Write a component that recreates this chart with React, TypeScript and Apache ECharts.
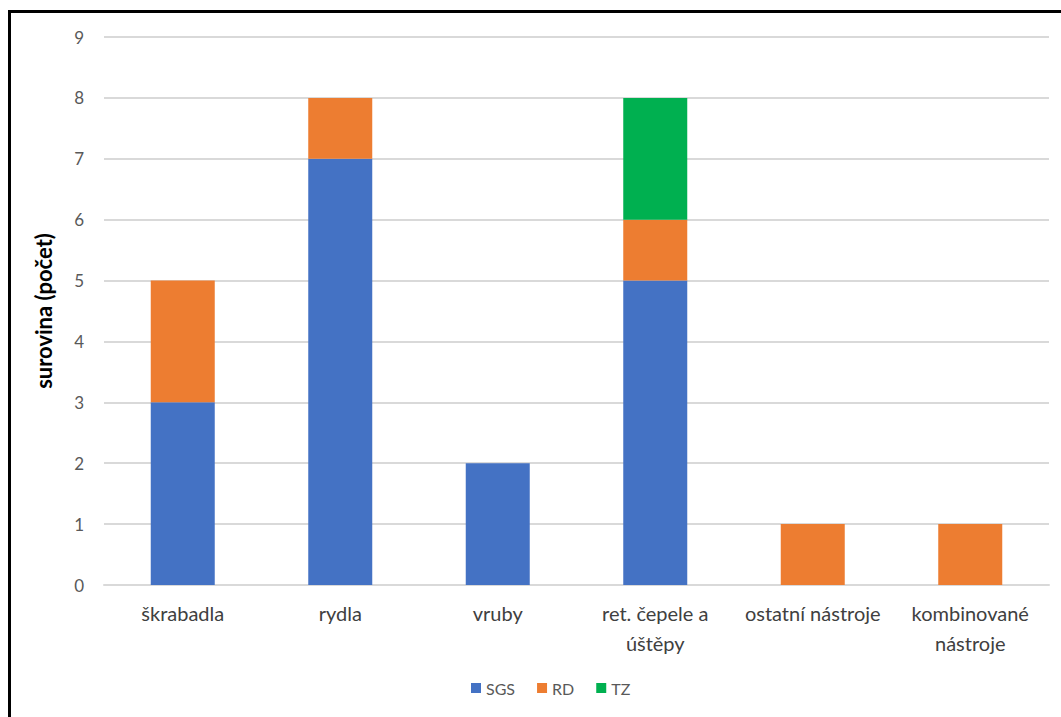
import React, { useEffect, useRef } from "react";
import * as echarts from "echarts";

const categories = [
  "škrabadla",
  "rydla",
  "vruby",
  "ret. čepele a\núštěpy",
  "ostatní nástroje",
  "kombinované\nnástroje",
];
const sgsValues = [3, 7, 2, 5, 0, 0];
const rdValues = [2, 1, 0, 1, 1, 1];
const tzValues = [0, 0, 0, 2, 0, 0];
const yTicks = [0, 9, 1]; // min, max, interval

const FONT = "Lato, 'Open Sans', sans-serif";

export default function App() {
  const ref = useRef<HTMLDivElement>(null);

  useEffect(() => {
    if (!ref.current) return;
    const chart = echarts.init(ref.current, null, { renderer: "svg" });
    const barStyle = (name: string, data: number[], color: string) => ({
      name,
      type: "bar",
      stack: "total",
      data,
      barWidth: 64,
      itemStyle: { color },
    });
    chart.setOption({
      animation: false,
      backgroundColor: "#ffffff",
      textStyle: { fontFamily: FONT },
      grid: { left: 104, right: 12, top: 37, bottom: 132 },
      xAxis: {
        type: "category",
        data: categories,
        axisTick: { show: false },
        axisLine: { lineStyle: { color: "#d9d9d9", width: 2 } },
        axisLabel: {
          color: "#404040",
          fontSize: 20,
          fontFamily: FONT,
          margin: 13,
          lineHeight: 30,
          interval: 0,
        },
      },
      yAxis: {
        type: "value",
        min: yTicks[0],
        max: yTicks[1],
        interval: yTicks[2],
        name: "surovina (počet)",
        nameLocation: "middle",
        nameGap: 50,
        nameRotate: 90,
        nameTextStyle: {
          color: "#000000",
          fontWeight: "bold",
          fontSize: 22,
          fontFamily: FONT,
        },
        axisLine: { show: false },
        axisTick: { show: false },
        axisLabel: { color: "#595959", fontSize: 17, margin: 20, fontFamily: FONT },
        splitLine: { lineStyle: { color: "#d9d9d9", width: 2 } },
      },
      legend: {
        bottom: 16,
        left: 466,
        itemWidth: 10,
        itemHeight: 10,
        itemGap: 22,
        icon: "rect",
        textStyle: { color: "#595959", fontSize: 16, fontFamily: FONT },
        data: ["SGS", "RD", "TZ"],
      },
      graphic: [
        {
          type: "polyline",
          shape: {
            points: [
              [9.5, 717],
              [9.5, 11.5],
              [1061, 11.5],
            ],
          },
          style: { stroke: "#000000", lineWidth: 3, fill: "none" },
          silent: true,
        },
      ],
      series: [
        barStyle("SGS", sgsValues, "#4472C4"),
        barStyle("RD", rdValues, "#ED7D31"),
        barStyle("TZ", tzValues, "#00B050"),
      ],
    });
    return () => chart.dispose();
  }, []);

  return (
    <div
      ref={ref}
      style={{ position: "absolute", left: 0, top: 0, width: 1061, height: 717 }}
    />
  );
}
